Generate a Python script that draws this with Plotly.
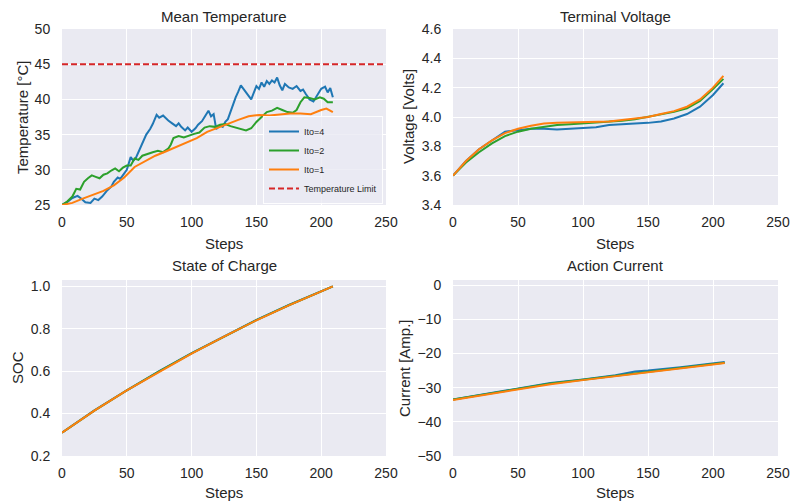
import plotly.graph_objects as go

# ---------------- data ----------------
T4_steps = [0,4,8,12,15,18,22,25,28,31,35,38,40,43,45,48,50,53,55,57,60,63,65,68,70,73,75,78,80,82,85,88,90,92,95,97,100,103,105,108,110,113,115,117,119,122,124,126,128,130,132,134,136,138,140,142,144,146,148,150,152,154,156,158,160,162,164,166,168,170,172,175,178,181,184,186,188,191,194,197,200,203,205,207,209]
T4_vals = [25.0,25.4,26.0,26.3,25.9,25.4,25.3,25.9,25.7,26.2,27.1,27.6,28.3,28.9,28.7,29.4,30.0,31.8,31.3,31.7,33.0,34.2,35.0,35.8,36.5,37.8,37.4,37.7,37.3,37.0,36.6,36.2,36.6,36.1,35.6,36.0,35.4,35.9,36.4,36.9,37.5,38.4,37.6,37.9,35.8,36.3,36.1,36.8,37.2,38.3,39.2,40.3,41.1,42.0,41.5,40.9,40.5,40.0,41.0,41.9,41.5,42.4,41.8,42.6,42.2,42.7,42.4,43.1,42.0,41.3,42.2,41.7,41.5,41.9,41.2,41.4,40.8,40.0,39.7,40.6,41.5,41.8,41.0,41.6,40.3]

T2_steps = [0,4,8,11,14,17,20,23,26,29,32,35,38,41,44,47,50,53,56,59,62,66,70,74,78,82,84,86,90,94,98,102,106,110,114,118,122,126,130,134,138,142,146,150,154,158,162,166,170,174,178,181,184,187,191,195,199,202,205,209]
T2_vals = [25.0,25.5,26.2,27.3,27.2,28.3,28.8,29.2,29.0,28.8,29.3,29.5,29.9,30.2,29.8,30.3,30.6,30.6,31.6,31.4,32.0,32.3,32.5,32.7,32.5,33.0,33.6,34.5,34.8,34.6,34.9,35.1,35.3,36.0,36.2,36.1,36.4,36.5,36.2,36.0,35.8,35.6,35.9,36.8,37.5,38.2,38.4,38.8,38.5,38.2,38.1,38.5,39.6,40.3,40.2,40.0,40.3,40.1,39.6,39.6]

T1_steps = [0,8,16,24,32,40,48,56,64,72,80,88,96,104,112,120,128,136,144,152,160,168,176,184,192,200,204,209]
T1_vals = [25.0,25.3,25.9,26.4,27.0,27.8,28.9,30.4,31.2,32.0,32.6,33.2,33.8,34.5,35.4,36.0,36.5,37.1,37.6,37.8,37.7,37.9,38.0,38.0,37.9,38.5,38.7,38.2]

TEMP_LIMIT = 45
LIMIT_STEPS = [0, 250]

V_steps = [0,10,20,30,40,50,60,70,80,90,100,110,120,130,140,150,160,170,180,190,200,208]
V4_vals = [3.60,3.70,3.78,3.84,3.90,3.91,3.92,3.92,3.915,3.92,3.925,3.93,3.945,3.95,3.95,3.96,3.97,3.99,4.02,4.07,4.15,4.23]
V2_vals = [3.60,3.69,3.76,3.82,3.87,3.90,3.92,3.935,3.945,3.95,3.955,3.96,3.965,3.975,3.985,4.00,4.015,4.035,4.06,4.11,4.19,4.26]
V1_vals = [3.60,3.70,3.78,3.84,3.89,3.92,3.94,3.955,3.96,3.962,3.965,3.967,3.97,3.98,3.99,4.00,4.02,4.04,4.07,4.12,4.20,4.28]

S_steps = [0,25,50,75,100,125,150,175,200,209]
S4_vals = [0.31,0.415,0.51,0.60,0.685,0.765,0.842,0.912,0.977,1.0]
S2_vals = [0.31,0.414,0.509,0.599,0.684,0.764,0.841,0.911,0.976,1.0]
S1_vals = [0.31,0.414,0.509,0.598,0.683,0.763,0.840,0.910,0.976,1.0]

I_steps = [0,25,50,75,100,125,140,150,175,200,209]
I4_vals = [-33.5,-31.9,-30.4,-28.6,-27.6,-26.4,-25.3,-25.0,-24.0,-23.0,-22.5]
I2_vals = [-33.5,-31.9,-30.4,-28.8,-27.7,-26.5,-25.8,-25.3,-24.1,-23.1,-22.7]
I1_vals = [-33.6,-32.0,-30.5,-29.0,-27.8,-26.6,-26.0,-25.4,-24.2,-23.2,-22.8]

SERIES_NAMES = ["Ito=4", "Ito=2", "Ito=1"]
LIMIT_NAME = "Temperature Limit"
X_TICKS = [0, 50, 100, 150, 200, 250]

# ---------------- style ----------------
COLORS = ["#1f77b4", "#2ca02c", "#ff7f0e"]
RED = "#d62728"
BG = "#EAEAF2"
FONT = "Liberation Sans, Arial, sans-serif"
TXT = "#262626"
LW = 2

fig = go.Figure()

def add_lines(xs_list, ys_list, xa, ya, legend):
    for i, (xs, ys) in enumerate(zip(xs_list, ys_list)):
        fig.add_trace(go.Scatter(x=xs, y=ys, mode="lines", name=SERIES_NAMES[i],
                                 line=dict(color=COLORS[i], width=LW),
                                 xaxis=xa, yaxis=ya, showlegend=legend))

add_lines([T4_steps, T2_steps, T1_steps], [T4_vals, T2_vals, T1_vals], "x", "y", True)
fig.add_trace(go.Scatter(x=LIMIT_STEPS, y=[TEMP_LIMIT, TEMP_LIMIT], mode="lines",
                         name=LIMIT_NAME, line=dict(color=RED, width=LW, dash="6px,3px"),
                         xaxis="x", yaxis="y", showlegend=True))
add_lines([V_steps]*3, [V4_vals, V2_vals, V1_vals], "x2", "y2", False)
add_lines([S_steps]*3, [S4_vals, S2_vals, S1_vals], "x3", "y3", False)
add_lines([I_steps]*3, [I4_vals, I2_vals, I1_vals], "x4", "y4", False)

W, H = 790, 504
def px_x(p): return p / W
def px_y(p): return 1 - p / H

dom_x = [[px_x(62), px_x(386)], [px_x(453), px_x(778)]]
dom_y_top = [px_y(205), px_y(29)]
dom_y_bot = [px_y(456), px_y(280)]

tickfont = dict(family=FONT, size=14, color=TXT)
def xax(dom, anchor):
    return dict(domain=dom, anchor=anchor, range=[0, 250], tickvals=X_TICKS,
                showgrid=True, gridcolor="white", gridwidth=1, zeroline=False,
                showline=False, ticks="outside", ticklen=4, tickcolor="rgba(0,0,0,0)",
                tickfont=tickfont, automargin=False)
def yax(dom, anchor, rng, tv, fmt=None):
    d = dict(domain=dom, anchor=anchor, range=rng, tickvals=tv,
             showgrid=True, gridcolor="white", gridwidth=1, zeroline=False,
             showline=False, ticks="outside", ticklen=8, tickcolor="rgba(0,0,0,0)",
             tickfont=tickfont, automargin=False)
    if fmt:
        d["tickformat"] = fmt
    return d

fig.update_layout(
    width=W, height=H,
    margin=dict(l=0, r=0, t=0, b=0),
    paper_bgcolor="white",
    plot_bgcolor=BG,
    font=dict(family=FONT, color=TXT),
    xaxis=xax(dom_x[0], "y"),
    yaxis=yax(dom_y_top, "x", [25, 50], [25, 30, 35, 40, 45, 50]),
    xaxis2=xax(dom_x[1], "y2"),
    yaxis2=yax(dom_y_top, "x2", [3.4, 4.6], [3.4, 3.6, 3.8, 4.0, 4.2, 4.4, 4.6], ".1f"),
    xaxis3=xax(dom_x[0], "y3"),
    yaxis3=yax(dom_y_bot, "x3", [0.2, 1.03], [0.2, 0.4, 0.6, 0.8, 1.0], ".1f"),
    xaxis4=xax(dom_x[1], "y4"),
    yaxis4=yax(dom_y_bot, "x4", [-50, 1.5], [0, -10, -20, -30, -40, -50]),
    showlegend=True,
    legend=dict(x=px_x(383), y=px_y(204), xanchor="right", yanchor="bottom",
                bgcolor="rgba(234,234,242,0.8)", bordercolor="rgba(255,255,255,0.9)",
                borderwidth=1, font=dict(family=FONT, size=9, color=TXT),
                tracegroupgap=0, itemwidth=30),
)

ann = []
def title(text, xc, yc, size=15, angle=0):
    ann.append(dict(text=text, x=px_x(xc), y=px_y(yc), xref="paper", yref="paper",
                    showarrow=False, textangle=angle, xanchor="center", yanchor="middle",
                    font=dict(family=FONT, size=size, color=TXT)))

title("Mean Temperature", 224, 16)
title("Terminal Voltage", 615, 16)
title("State of Charge", 224, 265)
title("Action Current", 615, 265)
title("Steps", 224, 243)
title("Steps", 615, 243)
title("Steps", 224, 492)
title("Steps", 615, 492)
title("Temperature [°C]", 22, 117, angle=-90)
title("Voltage [Volts]", 408, 117, angle=-90)
title("SOC", 17, 368, angle=-90)
title("Current [Amp.]", 404, 368, angle=-90)
fig.update_layout(annotations=ann)

fig.write_html("out.html", config={"displayModeBar": False},
               post_script="document.body.style.margin='0';document.body.style.overflow='hidden';")
